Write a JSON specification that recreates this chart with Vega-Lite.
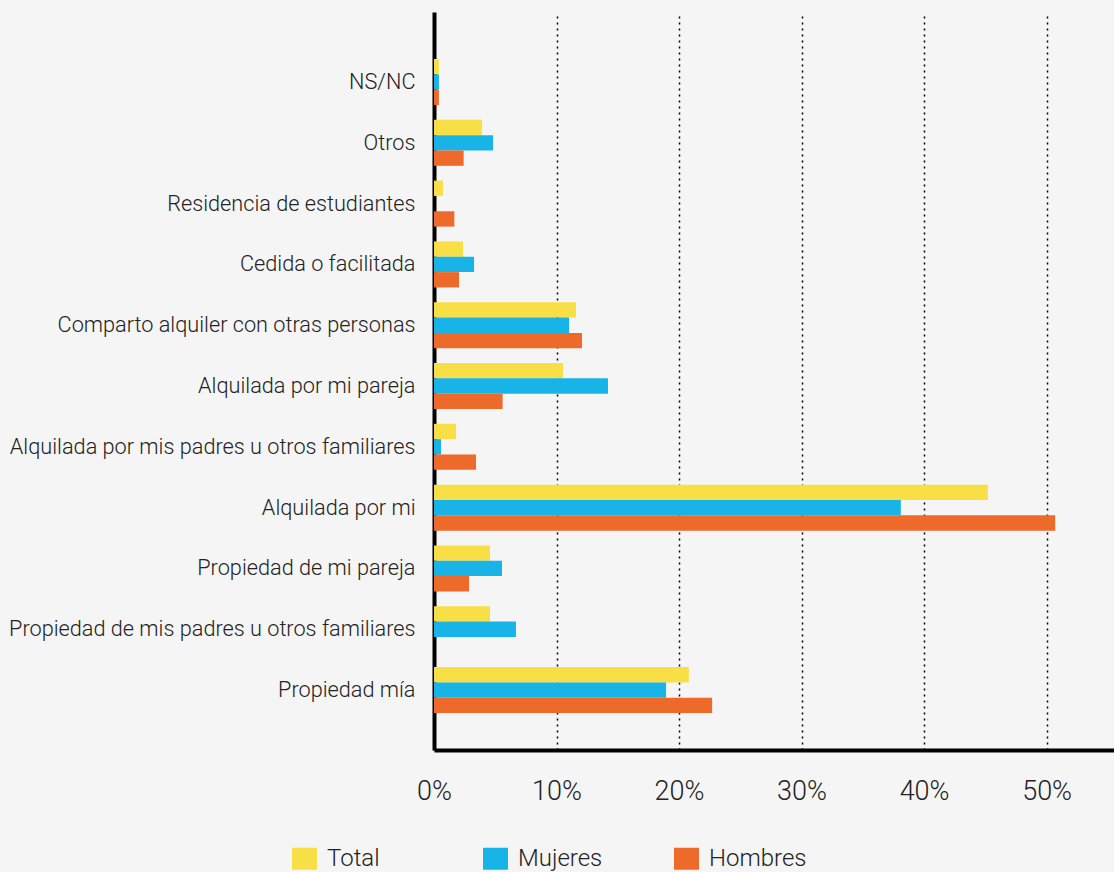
{
  "$schema": "https://vega.github.io/schema/vega-lite/v6.json",
  "width": 680,
  "height": 738,
  "autosize": {"type": "none"},
  "padding": {"left": 434, "top": 12, "right": 0, "bottom": 122},
  "background": "#f5f5f5",
  "config": {
    "view": {"stroke": null},
    "font": "Roboto"
  },
  "data": {
    "values": [
      {"cat": "NS/NC", "grupo": "Total", "valor": 0.4},
      {"cat": "NS/NC", "grupo": "Mujeres", "valor": 0.4},
      {"cat": "NS/NC", "grupo": "Hombres", "valor": 0.4},
      {"cat": "Otros", "grupo": "Total", "valor": 3.92},
      {"cat": "Otros", "grupo": "Mujeres", "valor": 4.82},
      {"cat": "Otros", "grupo": "Hombres", "valor": 2.42},
      {"cat": "Residencia de estudiantes", "grupo": "Total", "valor": 0.73},
      {"cat": "Residencia de estudiantes", "grupo": "Mujeres", "valor": 0},
      {"cat": "Residencia de estudiantes", "grupo": "Hombres", "valor": 1.66},
      {"cat": "Cedida o facilitada", "grupo": "Total", "valor": 2.37},
      {"cat": "Cedida o facilitada", "grupo": "Mujeres", "valor": 3.27},
      {"cat": "Cedida o facilitada", "grupo": "Hombres", "valor": 2.04},
      {"cat": "Comparto alquiler con otras personas", "grupo": "Total", "valor": 11.59},
      {"cat": "Comparto alquiler con otras personas", "grupo": "Mujeres", "valor": 11.02},
      {"cat": "Comparto alquiler con otras personas", "grupo": "Hombres", "valor": 12.08},
      {"cat": "Alquilada por mi pareja", "grupo": "Total", "valor": 10.53},
      {"cat": "Alquilada por mi pareja", "grupo": "Mujeres", "valor": 14.2},
      {"cat": "Alquilada por mi pareja", "grupo": "Hombres", "valor": 5.6},
      {"cat": "Alquilada por mis padres u otros familiares", "grupo": "Total", "valor": 1.8},
      {"cat": "Alquilada por mis padres u otros familiares", "grupo": "Mujeres", "valor": 0.57},
      {"cat": "Alquilada por mis padres u otros familiares", "grupo": "Hombres", "valor": 3.43},
      {"cat": "Alquilada por mi", "grupo": "Total", "valor": 45.2},
      {"cat": "Alquilada por mi", "grupo": "Mujeres", "valor": 38.1},
      {"cat": "Alquilada por mi", "grupo": "Hombres", "valor": 50.7},
      {"cat": "Propiedad de mi pareja", "grupo": "Total", "valor": 4.57},
      {"cat": "Propiedad de mi pareja", "grupo": "Mujeres", "valor": 5.55},
      {"cat": "Propiedad de mi pareja", "grupo": "Hombres", "valor": 2.86},
      {"cat": "Propiedad de mis padres u otros familiares", "grupo": "Total", "valor": 4.57},
      {"cat": "Propiedad de mis padres u otros familiares", "grupo": "Mujeres", "valor": 6.69},
      {"cat": "Propiedad de mis padres u otros familiares", "grupo": "Hombres", "valor": 0},
      {"cat": "Propiedad mía", "grupo": "Total", "valor": 20.8},
      {"cat": "Propiedad mía", "grupo": "Mujeres", "valor": 18.94},
      {"cat": "Propiedad mía", "grupo": "Hombres", "valor": 22.7}
    ]
  },
  "mark": {"type": "bar"},
  "encoding": {
    "y": {
      "field": "cat",
      "type": "nominal",
      "sort": ["NS/NC", "Otros", "Residencia de estudiantes", "Cedida o facilitada", "Comparto alquiler con otras personas", "Alquilada por mi pareja", "Alquilada por mis padres u otros familiares", "Alquilada por mi", "Propiedad de mi pareja", "Propiedad de mis padres u otros familiares", "Propiedad mía"],
      "scale": {"paddingInner": 0.243, "paddingOuter": 0.69, "align": 0.56},
      "axis": {
        "title": null,
        "domain": true,
        "domainColor": "#000000",
        "domainWidth": 4,
        "ticks": false,
        "labelPadding": 19,
        "labelFontSize": 21.7,
        "labelColor": "#222222",
        "labelFont": "Roboto",
        "labelFontWeight": 300,
        "labelLimit": 600
      }
    },
    "yOffset": {
      "field": "grupo",
      "type": "nominal",
      "sort": ["Total", "Mujeres", "Hombres"],
      "scale": {"paddingInner": 0}
    },
    "x": {
      "field": "valor",
      "type": "quantitative",
      "scale": {"domain": [0, 55.5], "nice": false},
      "axis": {
        "title": null,
        "values": [0, 10, 20, 30, 40, 50],
        "labelExpr": "datum.value + '%'",
        "labelFlush": false,
        "domain": true,
        "domainColor": "#000000",
        "domainWidth": 4,
        "ticks": false,
        "labelPadding": 28,
        "labelFontSize": 27,
        "labelColor": "#222222",
        "labelFont": "Roboto",
        "labelFontWeight": 300,
        "grid": true,
        "gridColor": "#000000",
        "gridWidth": 1.5,
        "gridDash": [2, 4],
        "gridOpacity": 1
      }
    },
    "color": {
      "field": "grupo",
      "type": "nominal",
      "sort": ["Total", "Mujeres", "Hombres"],
      "scale": {"domain": ["Total", "Mujeres", "Hombres"], "range": ["#f8df46", "#18b4e8", "#ee6a2b"]},
      "legend": {
        "title": null,
        "orient": "none",
        "direction": "horizontal",
        "legendX": -142,
        "legendY": 834,
        "symbolType": "M-1,-0.88H1V0.88H-1Z",
        "symbolSize": 625,
        "symbolStrokeWidth": 0,
        "symbolOpacity": 1,
        "labelFontSize": 24,
        "labelFont": "Roboto",
        "labelFontWeight": 300,
        "labelColor": "#222222",
        "labelOffset": 10,
        "gridAlign": "all",
        "columnPadding": 58
      }
    }
  }
}
